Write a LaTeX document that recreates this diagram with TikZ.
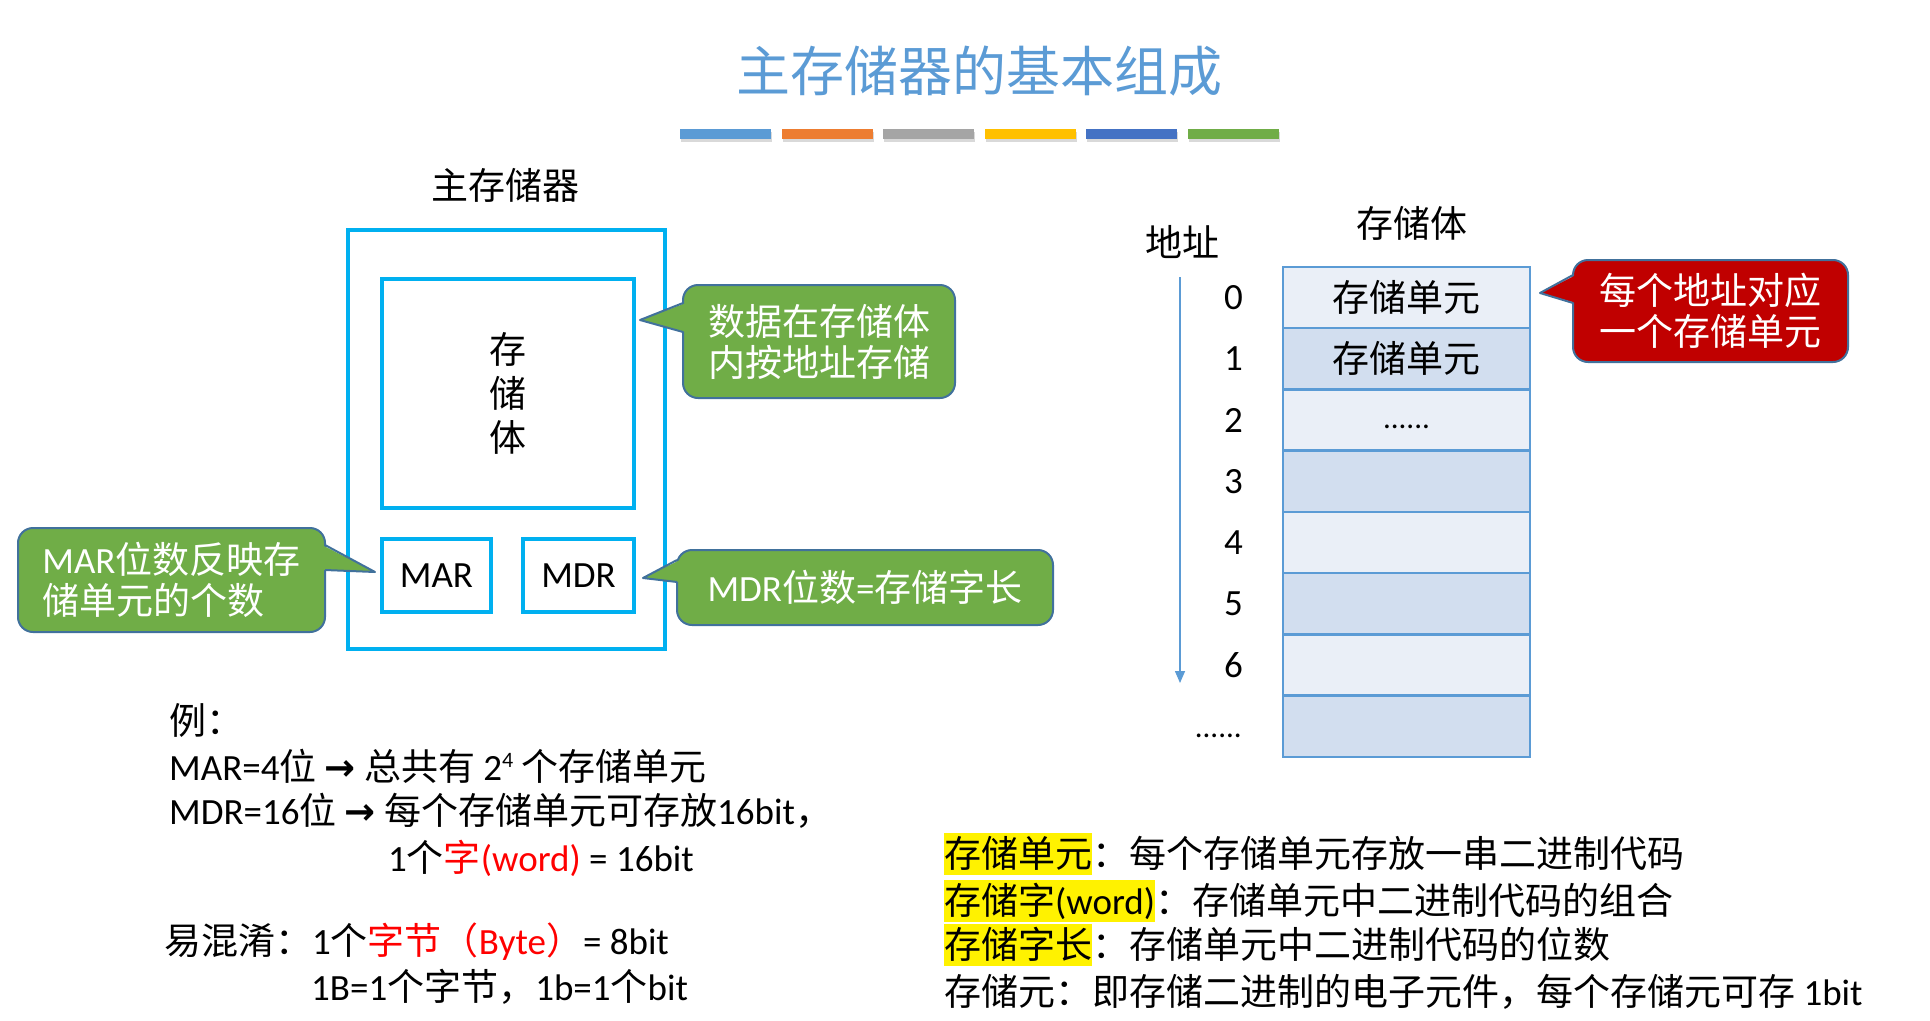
\documentclass[tikz,border=0pt]{standalone}
\usepackage{fontspec}
\setmainfont{Carlito}
\newfontfamily\cjk{Noto Sans CJK SC}
\newfontfamily\arrowfont{DejaVu Sans}
\usetikzlibrary{positioning,arrows.meta,shadows}

\definecolor{titleblue}{HTML}{5B9BD5}
\definecolor{cyanline}{HTML}{00B0F0}
\definecolor{barblue}{HTML}{5B9BD5}
\definecolor{barorange}{HTML}{ED7D31}
\definecolor{bargray}{HTML}{A5A5A5}
\definecolor{baryellow}{HTML}{FFC000}
\definecolor{bardblue}{HTML}{4472C4}
\definecolor{bargreen}{HTML}{70AD47}
\definecolor{calgreen}{HTML}{70AD47}
\definecolor{calred}{HTML}{C00000}
\definecolor{calline}{HTML}{41719C}
\definecolor{cellline}{HTML}{5B9BD5}
\definecolor{celllt}{HTML}{EAEFF7}
\definecolor{celldk}{HTML}{D2DEEF}

\newcommand{\lat}[1]{{\rmfamily #1}}
\newcommand{\bodysize}{\fontsize{37}{44}\selectfont}
\newcommand{\callsize}{\fontsize{37}{41}\selectfont}
\newcommand{\goesto}{{\arrowfont\bfseries →}}

\begin{document}
\begin{tikzpicture}[
x=1pt, y=-1pt,
txt/.style={font=\cjk\bodysize, inner sep=0pt, anchor=base west},
lbl/.style={font=\cjk\bodysize},
term/.style={txt, fill=yellow, text height=34pt, text depth=8pt},
cyanbox/.style={draw=cyanline, line width=3.5pt, outer sep=0pt, align=center, font=\cjk\bodysize},
bar/.style={minimum width=91pt, minimum height=10pt, inner sep=0pt, outer sep=0pt,
  drop shadow={opacity=0.3, shadow xshift=1pt, shadow yshift=-3pt}},
callout/.style={draw=calline, line width=2pt, rounded corners=15pt, outer sep=0pt,
  text=white, font=\cjk\callsize, align=center},
tipline/.style={draw=calline, line width=2pt, line join=round},
cell/.style={draw=cellline, line width=2.5pt, minimum width=247pt, minimum height=61.25pt,
  outer sep=0pt, font=\cjk\bodysize},
lightcell/.style={cell, fill=celllt},
darkcell/.style={cell, fill=celldk},
addr/.style={font=\bodysize, inner sep=0pt},
addrarrow/.style={draw=cellline, line width=1.5pt, -{Triangle[width=10pt,length=12pt]}}
]
\useasboundingbox (0,0) rectangle (1930,1020);

% title and colour bars
\node[font=\cjk\fontsize{54}{54}\selectfont, text=titleblue] (title) at (979,71) {主存储器的基本组成};
\node[bar, fill=barblue] (bar1) at (725.5,133.5) {};
\node[bar, fill=barorange, right=10.6pt of bar1] (bar2) {};
\node[bar, fill=bargray, right=10.6pt of bar2] (bar3) {};
\node[bar, fill=baryellow, right=10.6pt of bar3] (bar4) {};
\node[bar, fill=bardblue, right=10.6pt of bar4] (bar5) {};
\node[bar, fill=bargreen, right=10.6pt of bar5] (bar6) {};

% main memory
\node[lbl] (memlbl) at (505,185) {主存储器};
\node[cyanbox, minimum width=317pt, minimum height=419pt] (mem) at (506.5,439.5) {};
\node[cyanbox, minimum width=252pt, minimum height=229pt] (store) at (508,393.5) {存\\储\\体};
\node[cyanbox, minimum width=109pt, minimum height=73pt, font=\bodysize, below right=31pt and 0pt of store.south west] (mar) {MAR};
\node[cyanbox, minimum width=111pt, minimum height=73pt, font=\bodysize, right=32pt of mar] (mdr) {MDR};

% callouts
\node[callout, fill=calgreen, minimum width=272pt, minimum height=113pt] (datanote) at (819,341.5) {数据在存储体\\内按地址存储};
\coordinate (datatip) at (640,320);
\fill[calgreen] ([xshift=3pt,yshift=38.5pt]datanote.west) -- (datatip) -- ([xshift=3pt,yshift=9.5pt]datanote.west) -- cycle;
\draw[tipline] ([yshift=38.5pt]datanote.west) -- (datatip) -- ([yshift=9.5pt]datanote.west);

\node[callout, fill=calgreen, minimum width=307pt, minimum height=104pt, align=left] (marnote) at (171.5,580) {\lat{MAR}位数反映存\\储单元的个数};
\coordinate (martip) at (375,572);
\fill[calgreen] ([xshift=-3pt,yshift=35pt]marnote.east) -- (martip) -- ([xshift=-3pt,yshift=10pt]marnote.east) -- cycle;
\draw[tipline] ([yshift=35pt]marnote.east) -- (martip) -- ([yshift=10pt]marnote.east);

\node[callout, fill=calgreen, minimum width=376pt, minimum height=75pt] (mdrnote) at (865,587.5) {\lat{MDR}位数\lat{=}存储字长};
\coordinate (mdrtip) at (643,578);
\fill[calgreen] ([xshift=3pt,yshift=27.5pt]mdrnote.west) -- (mdrtip) -- ([xshift=3pt,yshift=5.5pt]mdrnote.west) -- cycle;
\draw[tipline] ([yshift=27.5pt]mdrnote.west) -- (mdrtip) -- ([yshift=5.5pt]mdrnote.west);

% storage bank
\node[lbl] (banklbl) at (1412,223) {存储体};
\node[lbl] (addrlbl) at (1182,242) {地址};
\node[lightcell] (cell0) at (1406.5,297.6) {存储单元};
\node[darkcell, below=0pt of cell0] (cell1) {存储单元};
\node[lightcell, below=0pt of cell1] (cell2) {\raisebox{-8pt}[0pt][0pt]{\lat{\fontsize{31}{31}\selectfont ......}}};
\node[darkcell, below=0pt of cell2] (cell3) {};
\node[lightcell, below=0pt of cell3] (cell4) {};
\node[darkcell, below=0pt of cell4] (cell5) {};
\node[lightcell, below=0pt of cell5] (cell6) {};
\node[darkcell, below=0pt of cell6] (cell7) {};

\node[addr, left=40pt of cell0] (addr0) {0};
\node[addr, left=40pt of cell1] (addr1) {1};
\node[addr, left=40pt of cell2] (addr2) {2};
\node[addr, left=40pt of cell3] (addr3) {3};
\node[addr, left=40pt of cell4] (addr4) {4};
\node[addr, left=40pt of cell5] (addr5) {5};
\node[addr, left=40pt of cell6] (addr6) {6};
\node[addr, left=41pt of cell7, yshift=-10pt] (addrdots) {\fontsize{31}{31}\selectfont ......};
\coordinate (addrtop) at (1180,277);
\coordinate (addrend) at (1180,683);
\draw[addrarrow] (addrtop) -- (addrend);

\node[callout, fill=calred, minimum width=275pt, minimum height=102pt] (rednote) at (1710.5,311) {每个地址对应\\一个存储单元};
\coordinate (redtip) at (1540,293);
\fill[calred] ([xshift=3pt,yshift=36pt]rednote.west) -- (redtip) -- ([xshift=3pt,yshift=8pt]rednote.west) -- cycle;
\draw[tipline] ([yshift=36pt]rednote.west) -- (redtip) -- ([yshift=8pt]rednote.west);

% example text
\node[txt] (ex0) at (169,734) {例：};
\node[txt] (ex1) at (169,780) {\lat{MAR=4}位 \goesto{} 总共有 \lat{2\raisebox{13pt}{\fontsize{22}{22}\selectfont 4}} 个存储单元};
\node[txt] (ex2) at (169,824) {\lat{MDR=16}位 \goesto{} 每个存储单元可存放\lat{16bit}，};
\node[txt] (ex3) at (388,871) {\lat{1}个\textcolor{red}{字\lat{(word)}}\lat{~= 16bit}};
\node[txt] (mix1) at (164,954) {易混淆：\lat{1}个\textcolor{red}{字节（\lat{Byte}）}\lat{= 8bit}};
\node[txt] (mix2) at (311,1000) {\lat{1B=1}个字节，\lat{1b=1}个\lat{bit}};

% terms
\node[term] (unit) at (944,867) {存储单元};
\node[txt] (unitdesc) at (unit.base east) {：每个存储单元存放一串二进制代码};
\node[term] (word) at (944,914) {存储字\lat{(word)}};
\node[txt] (worddesc) at (word.base east) {：存储单元中二进制代码的组合};
\node[term] (wlen) at (944,958) {存储字长};
\node[txt] (wlendesc) at (wlen.base east) {：存储单元中二进制代码的位数};
\node[txt] (cellbit) at (944,1005) {存储元：即存储二进制的电子元件，每个存储元可存 \lat{1bit}};
\end{tikzpicture}
\end{document}
